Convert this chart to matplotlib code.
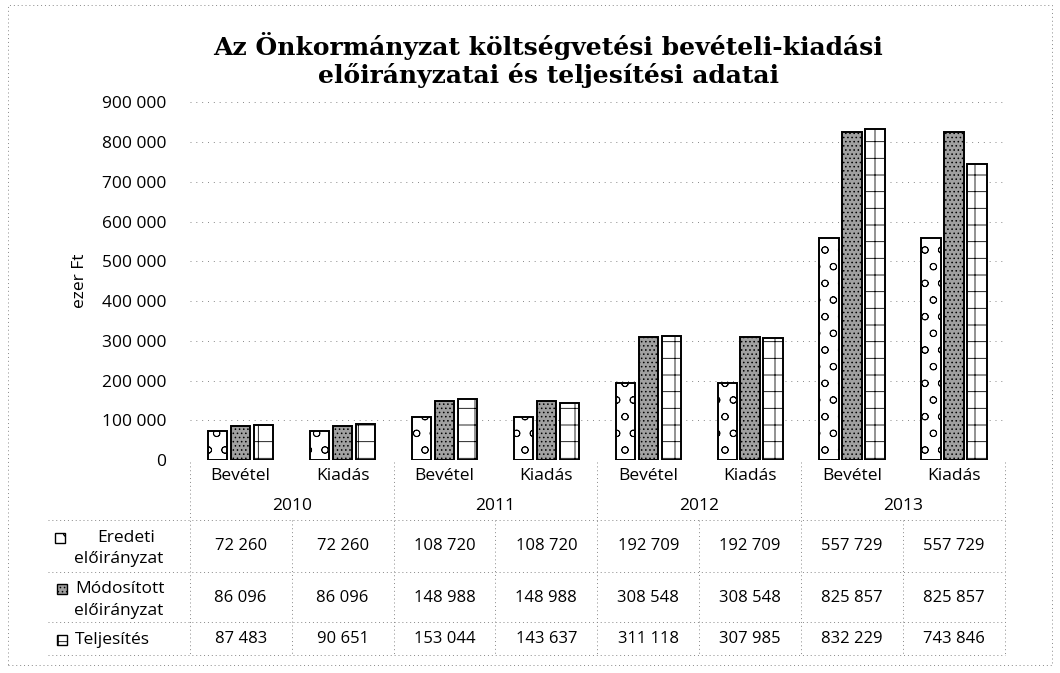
import matplotlib.pyplot as plt
import numpy as np
from matplotlib.patches import Rectangle
from matplotlib.transforms import blended_transform_factory

# ---- data ----
years = ['2010', '2011', '2012', '2013']
kinds = ['Bevétel', 'Kiadás']
eredeti = [72260, 72260, 108720, 108720, 192709, 192709, 557729, 557729]
modositott = [86096, 86096, 148988, 148988, 308548, 308548, 825857, 825857]
teljesites = [87483, 90651, 153044, 143637, 311118, 307985, 832229, 743846]
yticks = np.arange(0, 900001, 100000)


def fmt(v):
    return f"{v:,}".replace(',', ' ')


plt.rcParams['font.family'] = ['Open Sans', 'DejaVu Sans']
plt.rcParams['hatch.linewidth'] = 0.6

fig = plt.figure(figsize=(10.6, 6.73), dpi=100)
ax = fig.add_axes([0.179, 0.3165, 0.769, 0.5315])

x = np.arange(len(eredeti))
w = 0.19
styles = [
    dict(facecolor='white', hatch='o'),
    dict(facecolor='#a0a0a0', hatch='....'),
    dict(facecolor='white', hatch='+'),
]
data = [eredeti, modositott, teljesites]
for i, (vals, st) in enumerate(zip(data, styles)):
    ax.bar(x + (i - 1) * 0.225, vals, w, edgecolor='black', linewidth=1.4,
           zorder=3, **st)

ax.set_xlim(-0.5, len(x) - 0.5)
ax.set_ylim(0, 900000)
ax.set_yticks(yticks)
ax.set_yticklabels([fmt(v) for v in yticks], fontsize=12.5)
ax.tick_params(axis='y', length=0, pad=17)
ax.set_xticks([])
ax.yaxis.grid(True, color='#888888', linestyle=(0, (1, 5)), linewidth=0.7)
for s in ax.spines.values():
    s.set_visible(False)
ax.set_ylabel('ezer Ft', fontsize=12.5, labelpad=10)

fig.text(0.517, 0.911, 'Az Önkormányzat költségvetési bevételi-kiadási\n'
         'előirányzatai és teljesítési adatai', ha='center', va='center',
         family='DejaVu Serif', fontweight='bold', fontsize=18,
         linespacing=1.12)

# ---- data table below the axis ----
tr = blended_transform_factory(ax.transData, fig.transFigure)
dot = dict(color='#888888', linestyle=(0, (1, 3)), linewidth=0.7)


def fy(py):
    return 1 - py / 673


for i in x:
    ax.text(i, fy(476), kinds[i % 2], transform=tr, ha='center',
            va='center', fontsize=12.5, clip_on=False)
for j, yr in enumerate(years):
    ax.text(2 * j + 0.5, fy(506), yr, transform=tr, ha='center',
            va='center', fontsize=12.5, clip_on=False)

row_y = [546, 598, 639]
for vals, py in zip(data, row_y):
    for i in x:
        ax.text(i, fy(py), fmt(vals[i]), transform=tr, ha='center',
                va='center', fontsize=12, clip_on=False)

# row labels with legend keys
fig.text(0.119, fy(538), 'Eredeti', ha='center', va='center', fontsize=12.5)
fig.text(0.070, fy(559), 'előirányzat', ha='left', va='center', fontsize=12.5)
fig.text(0.071, fy(589), 'Módosított', ha='left', va='center', fontsize=12.5)
fig.text(0.070, fy(611), 'előirányzat', ha='left', va='center', fontsize=12.5)
fig.text(0.071, fy(640), 'Teljesítés', ha='left', va='center', fontsize=12.5)
for px, py, st in zip([55, 57, 57], [538, 589, 640], styles):
    fig.patches.append(Rectangle((px / 1060, fy(py) - 0.007), 0.0095, 0.0145,
                                 transform=fig.transFigure, edgecolor='black',
                                 linewidth=1, **st))

# table grid lines
for py in [520, 572, 622, 655]:
    fig.add_artist(plt.Line2D([0.045, 0.948], [fy(py), fy(py)],
                              transform=fig.transFigure, **dot))
for b in np.arange(-0.5, len(x), 1.0):
    top = 462 if (b + 0.5) % 2 == 0 else 520
    fig.add_artist(plt.Line2D([b, b], [fy(top), fy(655)], transform=tr, **dot))

# outer frame
fig.add_artist(Rectangle((0.008, 0.012), 0.984, 0.98, transform=fig.transFigure,
                         fill=False, **dot))

fig.savefig('out.png', dpi=100)
